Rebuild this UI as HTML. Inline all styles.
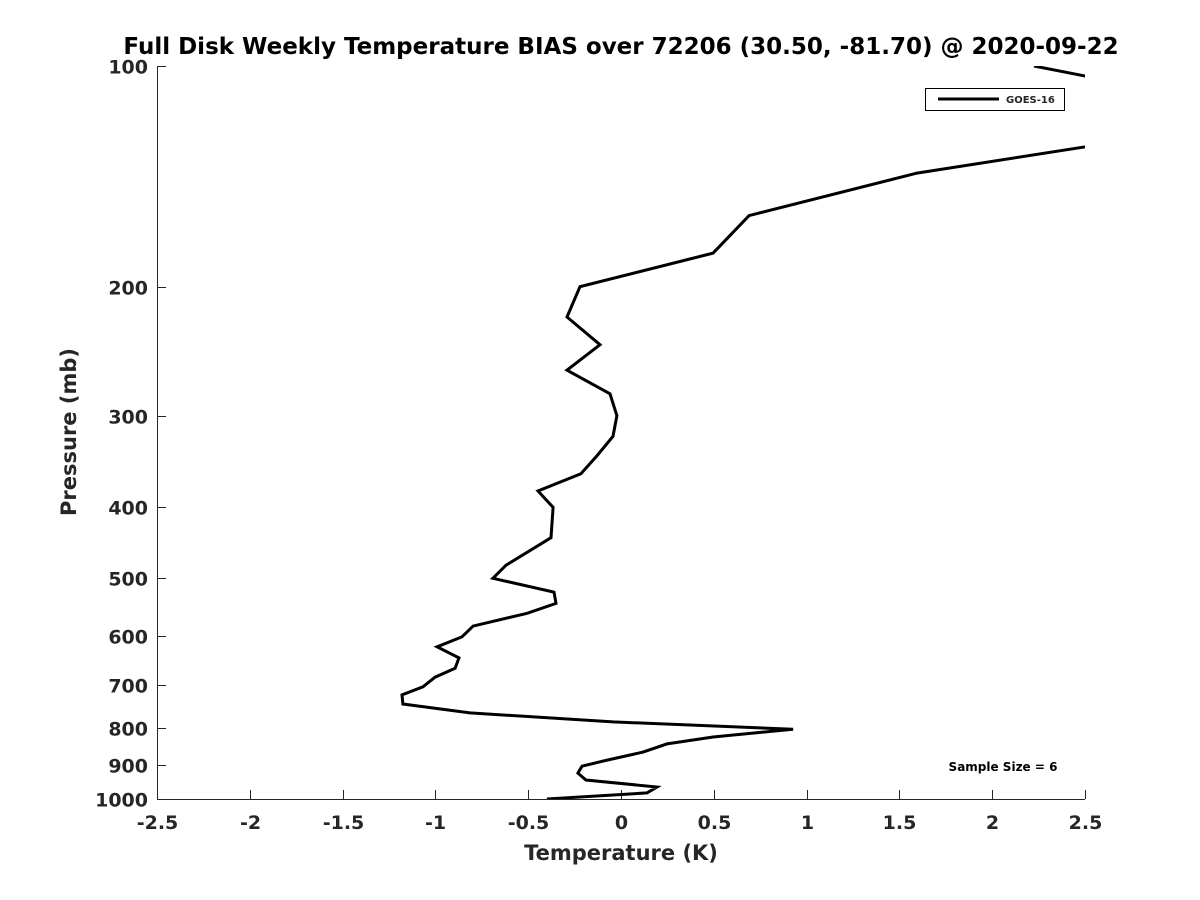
<!DOCTYPE html>
<html><head><meta charset="utf-8"><style>
body{margin:0;background:#fff}
svg{display:block;font-family:"DejaVu Sans","Liberation Sans",sans-serif;font-weight:bold}
</style></head><body>
<svg id="chart" width="1200" height="900">
<defs><clipPath id="plotclip"><rect x="157" y="66" width="928" height="733"/></clipPath></defs>
<text x="621" y="54" text-anchor="middle" font-size="23" fill="#000">Full Disk Weekly Temperature BIAS over 72206 (30.50, -81.70) @ 2020-09-22</text>
<g id="axes"></g>
<g id="series" clip-path="url(#plotclip)"></g>
<text x="621" y="860" text-anchor="middle" font-size="21" fill="#262626">Temperature (K)</text>
<text transform="translate(76,432) rotate(-90)" text-anchor="middle" font-size="21" fill="#262626">Pressure (mb)</text>
<g>
<rect x="925.5" y="88.5" width="139" height="22" fill="#fff" stroke="#000" stroke-width="1"/>
<line x1="938" y1="99" x2="999" y2="99" stroke="#000" stroke-width="3"/>
<text x="1006" y="103" font-size="10" fill="#262626">GOES-16</text>
</g>
<text x="1003" y="771" text-anchor="middle" font-size="12" fill="#000">Sample Size = 6</text>
</svg>
<script>
const xTicks=[-2.5,-2,-1.5,-1,-0.5,0,0.5,1,1.5,2,2.5];
const xTickLabels=["-2.5","-2","-1.5","-1","-0.5","0","0.5","1","1.5","2","2.5"];
const yTicks=[100,200,300,400,500,600,700,800,900,1000];
const yTickLabels=["100","200","300","400","500","600","700","800","900","1000"];
const biasValues=[2.225,2.9,2.75,1.595,0.69,0.496,-0.221,-0.291,-0.113,-0.291,-0.059,-0.022,-0.043,-0.129,-0.216,-0.447,-0.366,-0.377,-0.62,-0.69,-0.361,-0.35,-0.506,-0.797,-0.857,-0.991,-0.873,-0.894,-1.002,-1.067,-1.18,-1.175,-0.814,-0.043,0.927,0.496,0.248,0.119,-0.075,-0.21,-0.232,-0.189,0.194,0.14,-0.399];
const pressureLevels=[100,108,126,140,160,180,200,220,240,260,280,300,320,340,360,380,400,440,480,500,522,541,558,581,601,620,642,663,682,703,721,742,763,785,803,823,841,863,885,902,922,942,963,981,1000];
const X0=157,X1=1085,Y0=66,Y1=799;
function xs(v){return X0+(v+2.5)/5*(X1-X0);}
function ys(p){return Y0+(Math.log10(p)-2)*(Y1-Y0);}
const NS="http://www.w3.org/2000/svg";
const axes=document.getElementById('axes');
function mk(tag,attrs,parent){const e=document.createElementNS(NS,tag);for(const k in attrs)e.setAttribute(k,attrs[k]);parent.appendChild(e);return e;}
const xa=mk('line',{x1:X0,y1:Y1+0.5,x2:X1,y2:Y1+0.5,stroke:'#262626','stroke-width':1},axes);


const ya=mk('line',{x1:X0+0.5,y1:Y0,x2:X0+0.5,y2:Y1,stroke:'#262626','stroke-width':1},axes);


xTicks.forEach((v,i)=>{const x=Math.round(xs(v))+0.5;
 const t=mk('line',{x1:x,y1:Y1,x2:x,y2:Y1-9,stroke:'#262626','stroke-width':1},axes);
 
 
 const l=mk('text',{x:x,y:Y1+30,'text-anchor':'middle','font-size':19,fill:'#262626'},axes);
 l.textContent=xTickLabels[i];
 
 });
yTicks.forEach((p,i)=>{const y=Math.round(ys(p))+0.5;
 const t=mk('line',{x1:X0,y1:y,x2:X0+9,y2:y,stroke:'#262626','stroke-width':1},axes);
 
 
 const l=mk('text',{x:148,y:y+7,'text-anchor':'end','font-size':19,fill:'#262626'},axes);
 l.textContent=yTickLabels[i];
 
 });
const pts=biasValues.map((v,i)=>xs(v).toFixed(1)+','+ys(pressureLevels[i]).toFixed(1)).join(' ');
const line=mk('polyline',{points:pts,fill:'none',stroke:'#000','stroke-width':3,'stroke-linejoin':'miter'},document.getElementById('series'));


</script>
</body></html>
